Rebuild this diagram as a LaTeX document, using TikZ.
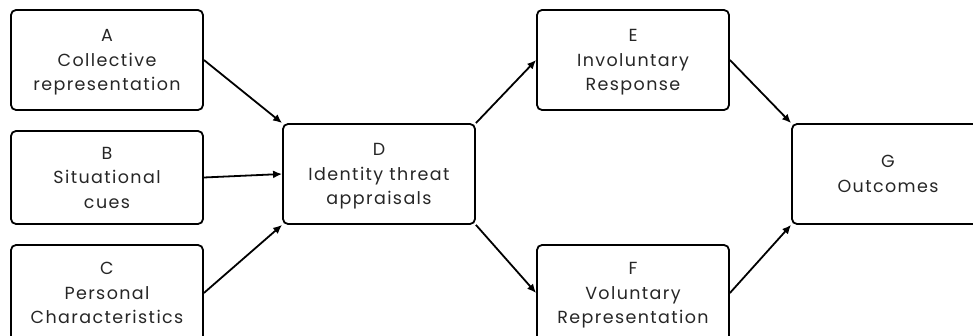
\documentclass[tikz,border=0pt]{standalone}
\usepackage{fontspec}
\setmainfont{Poppins}[LetterSpace=8]
\usetikzlibrary{arrows.meta}
\tikzset{
  stage/.style={draw, rounded corners=5pt, line width=1.8pt, minimum width=192pt,
    align=center, inner sep=0pt, text depth=0pt, text=black!85,
    font=\fontsize{17.5}{24.5}\selectfont},
  link/.style={->, >={Latex[length=9pt,width=8pt]}, line width=1.8pt}
}
\begin{document}
\begin{tikzpicture}[x=1pt,y=-1pt]
  \useasboundingbox (0,0) rectangle (973,336);
  \clip (0,0) rectangle (973,336);
  % input boxes
  \node[stage, minimum height=100pt] (a) at (107,60) {A\\Collective\\representation};
  \node[stage, minimum height=93pt] (b) at (107,177.5) {B\\Situational\\cues};
  \node[stage, minimum height=96pt] (c) at (107,293) {C\\Personal\\Characteristics};
  % appraisal
  \node[stage, minimum height=100pt] (d) at (379,174) {D\\Identity threat\\appraisals};
  % responses
  \node[stage, minimum height=100pt] (e) at (633,60) {E\\Involuntary\\Response};
  \node[stage, minimum height=96pt] (f) at (633,293) {F\\Voluntary\\Representation};
  % outcomes
  \node[stage, minimum height=100pt] (g) at (888,174) {G\\Outcomes};
  \draw[link] (a.east) -- (d.north west);
  \draw[link] (b.east) -- (d.west);
  \draw[link] (c.east) -- (d.south west);
  \draw[link] (d.north east) -- (e.west);
  \draw[link] (d.south east) -- (f.west);
  \draw[link] (e.east) -- (g.north west);
  \draw[link] (f.east) -- (g.south west);
\end{tikzpicture}
\end{document}
